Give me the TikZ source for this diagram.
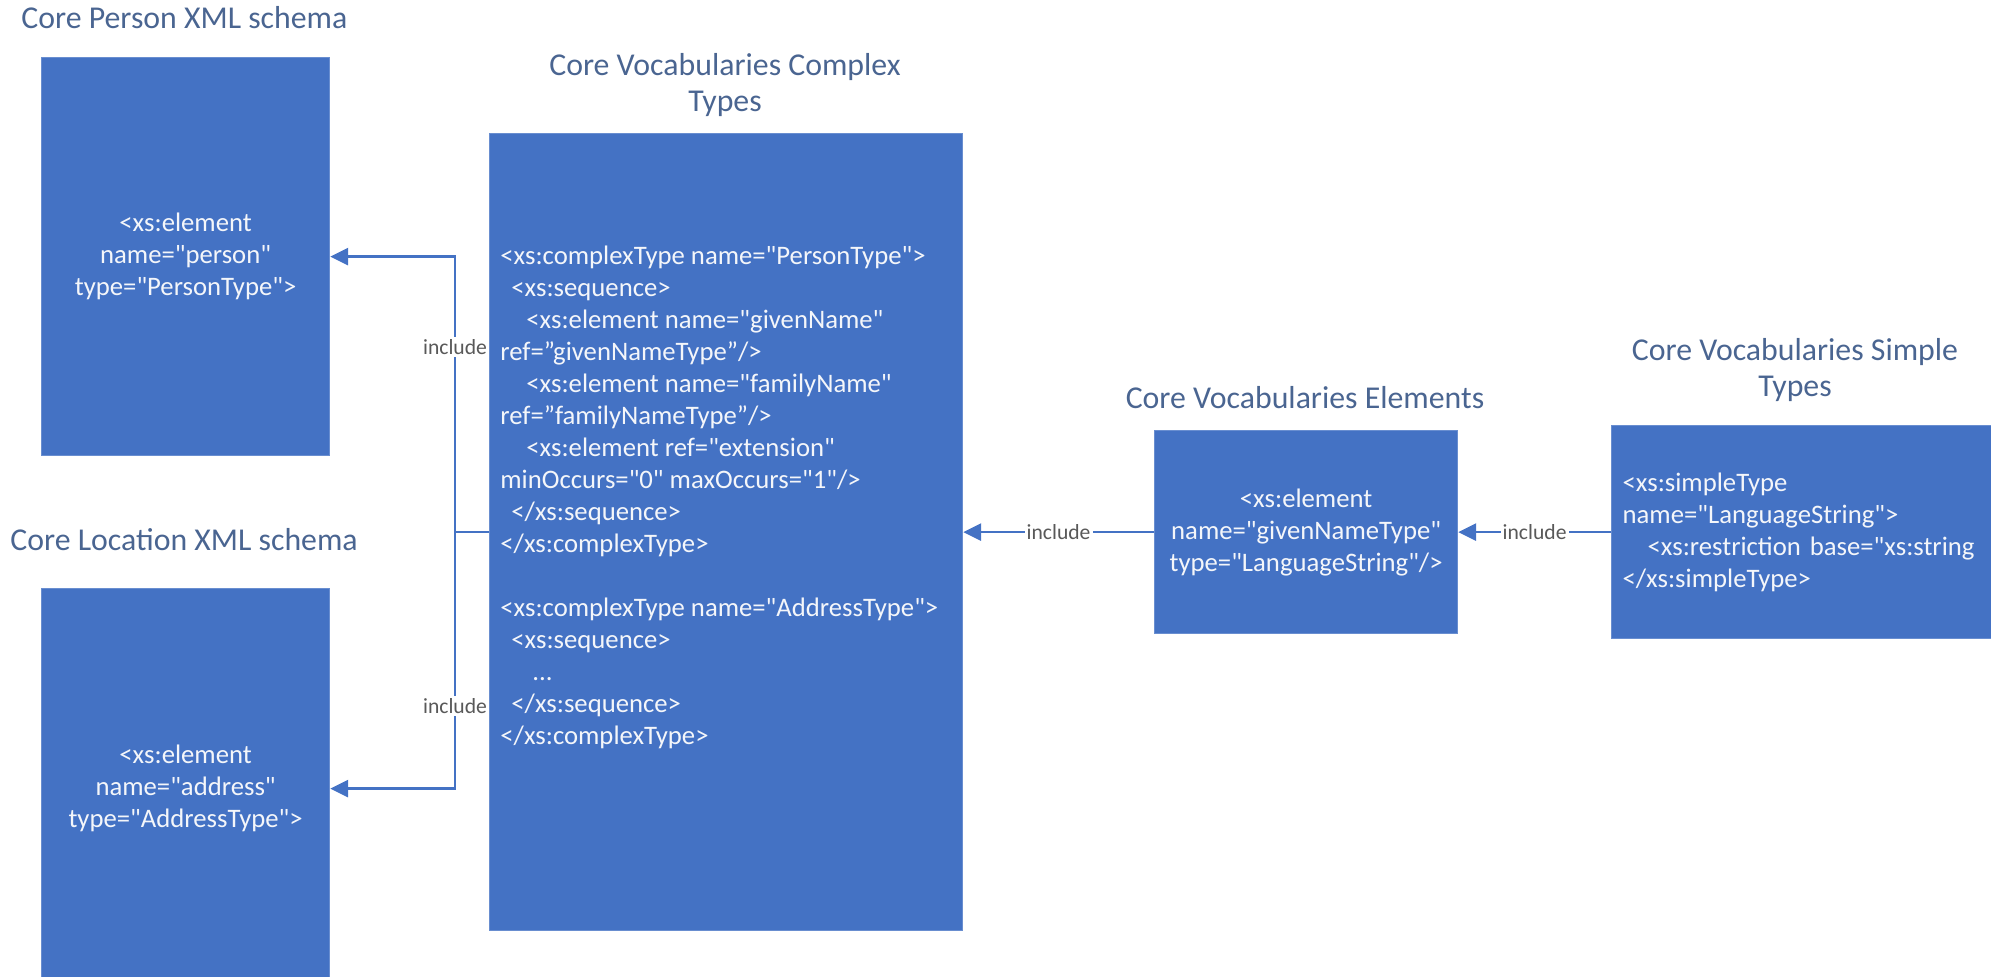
\documentclass[tikz,border=0pt]{standalone}
\usepackage{fontspec}
\setmainfont{Carlito}[Ligatures=TeXOff]
\usetikzlibrary{arrows.meta}
\definecolor{boxblue}{HTML}{4472C4}
\definecolor{titleblue}{HTML}{4A6591}
\definecolor{labelgray}{HTML}{595959}
\definecolor{codewhite}{HTML}{F4F6FA}

\begin{document}
\begin{tikzpicture}[x=0.5pt,y=-0.5pt,
  box/.style={fill=boxblue, draw=boxblue!80!white, line width=0.6pt, anchor=north west,
    inner sep=0pt, text=codewhite, font=\fontsize{13.35}{16}\selectfont, align=center},
  code/.style={text=codewhite, font=\fontsize{13.35}{16}\selectfont, inner sep=0pt, align=left},
  title/.style={text=titleblue, font=\fontsize{15.9}{18.25}\selectfont, inner sep=0pt, align=center},
  conn/.style={draw=boxblue, line width=1.35pt},
  arr/.style={conn, -{Triangle[length=9pt,width=8.5pt]}},
  incl/.style={fill=white, text=labelgray, font=\fontsize{10.8}{12}\selectfont, inner sep=1pt}]
\useasboundingbox (0,0) rectangle (1991,976);
\clip (0,0) rectangle (1991,976);

% section titles
\node[title, anchor=west] (tperson) at (21,18) {Core Person XML schema};
\node[title, anchor=west] (tloc) at (10,540) {Core Location XML schema};
\node[title] (tcplx) at (725,85) {Core Vocabularies Complex\\Types};
\node[title] (telem) at (1305,398) {Core Vocabularies Elements};
\node[title] (tsimple) at (1795,370) {Core Vocabularies Simple\\Types};

% schema boxes
\node[box, minimum width=144pt, minimum height=199pt] (person) at (41,57)
  {<xs:element\\name="person"\\type="PersonType">};
\node[box, minimum width=144pt, minimum height=200pt] (loc) at (41,588)
  {<xs:element\\name="address"\\type="AddressType">};
\node[box, minimum width=236.5pt, minimum height=398.5pt] (cplx) at (489,133) {};
\node[code, anchor=north west] (cplxcode) at (500,246)
  {<xs:complexType name="PersonType">\\
   \hspace*{5.5pt}<xs:sequence>\\
   \hspace*{13pt}<xs:element name="givenName"\\
   ref=”givenNameType”/>\\
   \hspace*{13pt}<xs:element name="familyName"\\
   ref=”familyNameType”/>\\
   \hspace*{13pt}<xs:element ref="extension"\\
   minOccurs="0" maxOccurs="1"/>\\
   \hspace*{5.5pt}</xs:sequence>\\
   </xs:complexType>\\[16pt]
   <xs:complexType name="AddressType">\\
   \hspace*{5.5pt}<xs:sequence>\\
   \hspace*{16pt}...\\
   \hspace*{5.5pt}</xs:sequence>\\
   </xs:complexType>};
\node[box, minimum width=151.5pt, minimum height=101.5pt] (elem) at (1154,430)
  {<xs:element\\name="givenNameType"\\type="LanguageString"/>};
\node[box, align=left, inner xsep=5.5pt, text width=199pt, minimum height=106.5pt] (simple) at (1611,425)
  {<xs:simpleType\\
   name="LanguageString">\\
   \hspace*{12.5pt}<xs:restriction base="xs:string\\
   </xs:simpleType>};

% include connectors on the left
\coordinate (jl) at (455,532);
\draw[conn] (cplx.west |- jl) -- (jl);
\draw[arr] (jl) |- (person.east);
\draw[arr] (jl) |- (loc.east);
\node[incl] (inc1) at (455,347) {include};
\node[incl] (inc2) at (455,706) {include};

% include connectors on the right
\draw[arr] (elem.west) -- (cplx.east) node[midway, incl] (inc3) {include};
\draw[arr] (simple.west) -- (elem.east) node[midway, incl] (inc4) {include};
\end{tikzpicture}
\end{document}
